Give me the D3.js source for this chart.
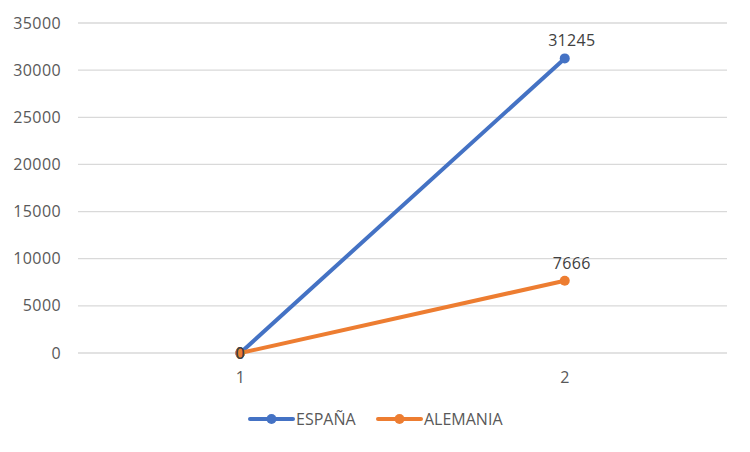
<!DOCTYPE html>
<html>
<head>
<meta charset="utf-8">
<script src="https://cdn.jsdelivr.net/npm/d3@7"></script>
<style>
  body { margin: 0; background: #fff; }
  text { font-family: "Open Sans", "DejaVu Sans", sans-serif; fill: #595959; }
</style>
</head>
<body>
<svg class="chart"></svg>
<script>
var categories = ["1", "2"];
var espana = [0, 31245];
var alemania = [0, 7666];
var seriesNames = ["ESPAÑA", "ALEMANIA"];
var yTicks = [0, 5000, 10000, 15000, 20000, 25000, 30000, 35000];

var width = 750,
    height = 452,
    colors = ["#4472C4", "#ED7D31"];

var svg = d3.select(".chart")
    .attr("width", width)
    .attr("height", height);

var x = d3.scaleBand().domain(categories).range([78, 727]); // two bands, points at centers
var y = d3.scaleLinear().domain([0, 35000]).range([353, 23]);

// gridlines
svg.append("g")
    .selectAll("line")
    .data(yTicks)
  .enter().append("line")
    .attr("x1", 78)
    .attr("x2", 727)
    .attr("y1", function(d) { return y(d); })
    .attr("y2", function(d) { return y(d); })
    .attr("stroke", "#d9d9d9")
    .attr("stroke-width", 1.3);

// y axis labels
var yAxis = svg.append("g")
    .attr("transform", "translate(68,0)")
    .call(d3.axisLeft(y).tickValues(yTicks).tickSize(0).tickPadding(7).tickFormat(d3.format("d")));
yAxis.select(".domain").remove();
yAxis.selectAll("text")
    .attr("font-family", null)
    .style("font-size", "16px")
    .style("letter-spacing", "0.4px");

// x axis labels
var xAxis = svg.append("g")
    .attr("transform", "translate(0,353)")
    .call(d3.axisBottom(x).tickSize(0).tickPadding(19));
xAxis.select(".domain").remove();
xAxis.selectAll("text")
    .attr("font-family", null)
    .style("font-size", "16px");

var series = [espana, alemania];

series.forEach(function(values, i) {
  var pts = values.map(function(v, j) { return { c: categories[j], v: v }; });
  var line = d3.line()
      .x(function(d) { return x(d.c) + x.bandwidth() / 2; })
      .y(function(d) { return y(d.v); });

  svg.append("path")
      .datum(pts)
      .attr("d", line)
      .attr("fill", "none")
      .attr("stroke", colors[i])
      .attr("stroke-width", 4)
      .attr("stroke-linecap", "round");

  svg.append("g")
      .selectAll("circle")
      .data(pts)
    .enter().append("circle")
      .attr("cx", function(d) { return x(d.c) + x.bandwidth() / 2; })
      .attr("cy", function(d) { return y(d.v); })
      .attr("r", 5)
      .attr("fill", colors[i]);
});

// data labels
series.forEach(function(values, i) {
  svg.append("g")
      .selectAll("text")
      .data(values)
    .enter().append("text")
      .attr("x", function(d, j) { return x(categories[j]) + x.bandwidth() / 2 + (d === 0 ? 0 : 7); })
      .attr("y", function(d) { return d === 0 ? y(d) + 6 : y(d) - 12; })
      .attr("text-anchor", "middle")
      .style("font-size", "16px")
      .style("fill", "#404040")
      .style("letter-spacing", "0.3px")
      .text(function(d) { return d; });
});

// legend
var legend = svg.append("g");
var legendX = [250, 378];
seriesNames.forEach(function(name, i) {
  var g = legend.append("g").attr("transform", "translate(" + legendX[i] + ",419)");
  g.append("line")
      .attr("x1", 0).attr("x2", 43)
      .attr("stroke", colors[i])
      .attr("stroke-width", 4)
      .attr("stroke-linecap", "round");
  g.append("circle")
      .attr("cx", 21.5)
      .attr("r", 5)
      .attr("fill", colors[i]);
  g.append("text")
      .attr("x", 46)
      .attr("dy", "0.36em")
      .style("font-size", "16px")
      .text(name);
});
</script>
</body>
</html>
